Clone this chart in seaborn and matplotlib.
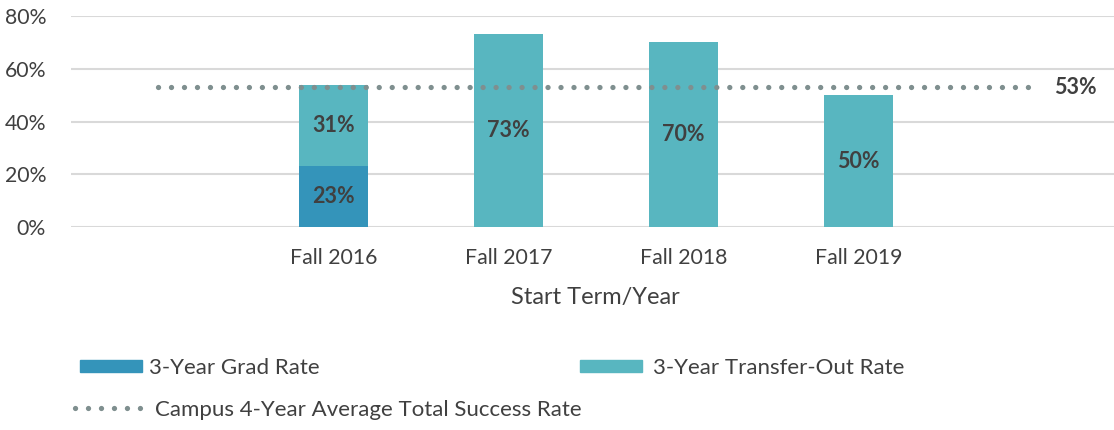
import matplotlib
matplotlib.use("Agg")
import matplotlib.pyplot as plt
import numpy as np
import pandas as pd
import seaborn as sns
from matplotlib.lines import Line2D
from matplotlib.patches import Patch

# chart values
terms = ["", "Fall 2016", "Fall 2017", "Fall 2018", "Fall 2019", " "]
grad_rate = [np.nan, 0.23, np.nan, np.nan, np.nan, np.nan]
transfer_rate = [np.nan, 0.31, 0.73, 0.70, 0.50, np.nan]
campus_avg = [0.53, 0.53, 0.53, 0.53, 0.53, 0.53]
yticks = [0, 0.2, 0.4, 0.6, 0.8]

grad_color = "#3494BA"
transfer_color = "#58B6C0"
avg_color = "#7F8F8F"
text_color = "#404040"
dots = (0, (0.01, 2.45))

sns.set_theme(style="white")
plt.rcParams["font.family"] = ["Lato", "DejaVu Sans"]

df = pd.DataFrame({"term": terms, "grad": grad_rate, "transfer": transfer_rate, "avg": campus_avg})
# stacked bar: draw the total in teal, then the grad part over it
df["total"] = df["grad"].fillna(0) + df["transfer"]

fig = plt.figure(figsize=(11.14, 4.30), dpi=100)
ax = fig.add_axes([71 / 1114, 1 - 227 / 430, 1 - 71 / 1114 + 0.006, (227 - 16) / 430])

sns.barplot(data=df, x="term", y="total", order=terms, color=transfer_color, width=0.395,
            saturation=1, linewidth=0, ax=ax, zorder=3)
sns.barplot(data=df, x="term", y="grad", order=terms, color=grad_color, width=0.395,
            saturation=1, linewidth=0, ax=ax, zorder=3)
sns.lineplot(x=np.arange(len(terms)), y=df["avg"], color=avg_color, linewidth=3.8,
             linestyle=dots, dash_capstyle="round", ax=ax, zorder=4)

# segment labels
for i, (g, t) in enumerate(zip(grad_rate, transfer_rate)):
    base = 0
    if not np.isnan(g):
        ax.text(i, g / 2, f"{g:.0%}", ha="center", va="center", fontsize=15.5,
                fontweight="bold", color=text_color, zorder=5)
        base = g
    if not np.isnan(t):
        ax.text(i, base + t / 2, f"{t:.0%}", ha="center", va="center", fontsize=15.5,
                fontweight="bold", color=text_color, zorder=5)
ax.text(len(terms) - 1 + 0.24, campus_avg[-1], f"{campus_avg[-1]:.0%}", ha="center",
        va="center", fontsize=15.5, fontweight="bold", color=text_color)

ax.set_xlim(-0.5, len(terms) - 0.5)
ax.set_ylim(0, 0.8)
ax.set_yticks(yticks)
ax.set_yticklabels([f"{v:.0%}" for v in yticks], fontsize=15.3, color=text_color)
ax.tick_params(axis="x", labelsize=15.3, labelcolor=text_color, length=0, pad=15)
ax.tick_params(axis="y", length=0, pad=18)
ax.yaxis.grid(True, color="#D9D9D9", linewidth=1.5, zorder=0)
ax.set_axisbelow(True)
ax.set_xlabel("Start Term/Year", fontsize=17, color=text_color, labelpad=14)
ax.set_ylabel("")
for s in ax.spines.values():
    s.set_visible(False)

# legend entries placed like the original (one legend per entry)
leg_kw = dict(loc="center left", frameon=False, fontsize=16, borderaxespad=0, borderpad=0,
              labelcolor=text_color)
fig.legend([Patch(color=grad_color)], ["3-Year Grad Rate"],
           bbox_to_anchor=(80 / 1114, 1 - 368 / 430), handlelength=2.8, handleheight=0.45,
           handletextpad=0.3, **leg_kw)
fig.legend([Patch(color=transfer_color)], ["3-Year Transfer-Out Rate"],
           bbox_to_anchor=(580 / 1114, 1 - 368 / 430), handlelength=2.8, handleheight=0.45,
           handletextpad=0.5, **leg_kw)
fig.legend([Line2D([0], [0], color=avg_color, linewidth=3.8, linestyle=dots,
                   dash_capstyle="round")],
           ["Campus 4-Year Average Total Success Rate"],
           bbox_to_anchor=(75 / 1114, 1 - 410 / 430), handlelength=3.3,
           handletextpad=0.3, **leg_kw)

fig.savefig("out.png", dpi=100)
